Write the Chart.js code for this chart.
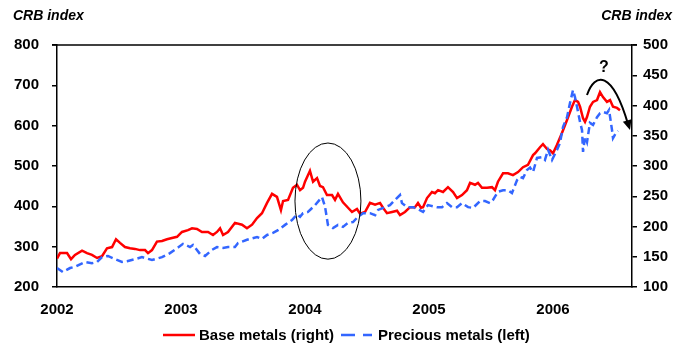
<!DOCTYPE html>
<html>
<head>
<meta charset="utf-8">
<script src="https://cdn.jsdelivr.net/npm/chart.js@4.4.0/dist/chart.umd.min.js"></script>
<style>
  html, body { margin: 0; padding: 0; background: #fff; }
  #wrap { width: 673px; height: 345px; }
</style>
</head>
<body>
<div id="wrap"><canvas id="c" width="673" height="345"></canvas></div>
<script>
// ---- data ----
const axisTitle = "CRB index";
const xTickYears = [2002, 2003, 2004, 2005, 2006];
const leftTicks = [200, 300, 400, 500, 600, 700, 800];
const rightTicks = [100, 150, 200, 250, 300, 350, 400, 450, 500];

const baseLabel = "Base metals (right)";
const baseYears = [
  2002.000, 2002.024, 2002.081, 2002.113, 2002.145, 2002.202, 2002.242, 2002.282, 2002.323, 2002.363,
  2002.403, 2002.444, 2002.476, 2002.508, 2002.548, 2002.589, 2002.629, 2002.669, 2002.710, 2002.734,
  2002.766, 2002.806, 2002.847, 2002.887, 2002.927, 2002.968, 2003.008, 2003.056, 2003.089, 2003.129,
  2003.169, 2003.218, 2003.258, 2003.290, 2003.315, 2003.339, 2003.379, 2003.435, 2003.492, 2003.532,
  2003.573, 2003.613, 2003.653, 2003.694, 2003.734, 2003.774, 2003.806, 2003.823, 2003.863, 2003.903,
  2003.935, 2003.960, 2003.984, 2004.000, 2004.040, 2004.065, 2004.097, 2004.121, 2004.145, 2004.177,
  2004.218, 2004.242, 2004.266, 2004.306, 2004.347, 2004.379, 2004.419, 2004.444, 2004.484, 2004.524,
  2004.565, 2004.605, 2004.629, 2004.661, 2004.702, 2004.742, 2004.766, 2004.806, 2004.847, 2004.887,
  2004.911, 2004.935, 2004.952, 2004.984, 2005.024, 2005.048, 2005.073, 2005.113, 2005.153, 2005.194,
  2005.226, 2005.266, 2005.306, 2005.331, 2005.371, 2005.395, 2005.427, 2005.468, 2005.508, 2005.532,
  2005.556, 2005.597, 2005.637, 2005.677, 2005.718, 2005.758, 2005.798, 2005.839, 2005.855, 2005.895,
  2005.919, 2005.952, 2005.976, 2006.000, 2006.032, 2006.073, 2006.113, 2006.153, 2006.177, 2006.202,
  2006.218, 2006.242, 2006.258, 2006.274, 2006.298, 2006.323, 2006.355, 2006.379, 2006.403, 2006.435,
  2006.460, 2006.484, 2006.516, 2006.540
];
const baseValues = [
  147, 156, 156, 146, 153, 160, 156, 153, 148, 151,
  164, 166, 179, 173, 166, 164, 163, 161, 161, 156,
  161, 175, 176, 179, 181, 183, 191, 194, 197, 196,
  191, 191, 186, 191, 197, 186, 191, 206, 203, 197,
  203, 214, 222, 239, 254, 249, 227, 242, 244, 264,
  269, 260, 264, 274, 292, 274, 280, 267, 265, 252,
  252, 244, 254, 240, 231, 224, 229, 221, 224, 239,
  236, 239, 231, 222, 224, 226, 219, 224, 232, 232,
  239, 231, 232, 247, 257, 255, 260, 257, 265, 257,
  247, 252, 260, 272, 269, 272, 264, 264, 265, 260,
  274, 288, 288, 285, 290, 298, 302, 318, 321, 331,
  336, 328, 326, 321, 335, 355, 376, 398, 409, 406,
  398, 379, 373, 381, 398, 406, 409, 422, 414, 406,
  409, 398, 396, 392
];

const preciousLabel = "Precious metals (left)";
const preciousYears = [
  2002.000, 2002.048, 2002.105, 2002.145, 2002.226, 2002.282, 2002.323, 2002.363, 2002.411, 2002.468,
  2002.524, 2002.565, 2002.629, 2002.685, 2002.766, 2002.847, 2002.911, 2002.976, 2003.016, 2003.073,
  2003.097, 2003.153, 2003.194, 2003.250, 2003.290, 2003.339, 2003.379, 2003.435, 2003.460, 2003.532,
  2003.613, 2003.653, 2003.694, 2003.742, 2003.782, 2003.839, 2003.895, 2003.935, 2003.960, 2003.984,
  2004.024, 2004.081, 2004.137, 2004.161, 2004.185, 2004.226, 2004.266, 2004.306, 2004.347, 2004.387,
  2004.427, 2004.468, 2004.524, 2004.565, 2004.589, 2004.645, 2004.685, 2004.726, 2004.766, 2004.782,
  2004.823, 2004.871, 2004.911, 2004.952, 2004.992, 2005.065, 2005.105, 2005.145, 2005.185, 2005.226,
  2005.266, 2005.315, 2005.355, 2005.411, 2005.452, 2005.492, 2005.516, 2005.556, 2005.597, 2005.637,
  2005.669, 2005.710, 2005.734, 2005.758, 2005.790, 2005.815, 2005.839, 2005.871, 2005.911, 2005.935,
  2005.960, 2005.992, 2006.032, 2006.056, 2006.081, 2006.113, 2006.137, 2006.161, 2006.177, 2006.194,
  2006.218, 2006.234, 2006.242, 2006.258, 2006.274, 2006.298, 2006.323, 2006.355, 2006.379, 2006.403,
  2006.435, 2006.452, 2006.476, 2006.484, 2006.508, 2006.524
];
const preciousValues = [
  247, 237, 247, 250, 262, 259, 262, 274, 277, 269,
  262, 264, 269, 274, 267, 274, 284, 298, 307, 299,
  304, 282, 277, 292, 299, 297, 299, 299, 309, 317,
  324, 319, 329, 334, 341, 354, 366, 380, 374, 383,
  386, 403, 423, 400, 354, 346, 354, 349, 359, 361,
  374, 383, 383, 378, 391, 398, 403, 416, 428, 408,
  398, 398, 393, 386, 403, 398, 398, 408, 398, 398,
  408, 398, 396, 413, 413, 408, 416, 436, 440, 440,
  433, 465, 473, 470, 490, 496, 485, 520, 522, 515,
  540, 515, 540, 557, 597, 621, 656, 688, 671, 646,
  609, 589, 535, 572, 559, 607, 602, 621, 631, 634,
  631, 639, 589, 569, 582, 587
];

// annotation geometry in data units (x: year, y: left-axis value)
const ellipseCenter = [2004.185, 413];
const ellipseRadii = [0.266, 144];
const arrowCurve = [[2006.274, 676], [2006.339, 733], [2006.476, 738], [2006.621, 589]];
const questionMark = { text: "?", at: [2006.411, 745] };

const FONT = "'Liberation Sans', Arial, Helvetica, sans-serif";

const basePts = baseYears.map((x, i) => ({ x, y: baseValues[i] }));
const precPts = preciousYears.map((x, i) => ({ x, y: preciousValues[i] }));

const RED = '#FF0000';
const BLUE = '#3366FF';

const deco = {
  id: 'deco',
  afterDatasetsDraw(chart) {
    const { ctx, chartArea: a, scales } = chart;
    const x = scales.x, yL = scales.yL;
    ctx.save();
    // top frame line
    ctx.strokeStyle = '#000';
    ctx.lineWidth = 1.5;
    ctx.beginPath();
    ctx.moveTo(a.left - 5, a.top);
    ctx.lineTo(a.right + 5, a.top);
    ctx.stroke();
    // ellipse
    const cx = x.getPixelForValue(ellipseCenter[0]);
    const cy = yL.getPixelForValue(ellipseCenter[1]);
    const rx = x.getPixelForValue(ellipseCenter[0] + ellipseRadii[0]) - cx;
    const ry = cy - yL.getPixelForValue(ellipseCenter[1] + ellipseRadii[1]);
    ctx.lineWidth = 1;
    ctx.beginPath();
    ctx.ellipse(cx, cy, rx, ry, 0, 0, Math.PI * 2);
    ctx.stroke();
    // arrow
    const p = arrowCurve.map(q => [x.getPixelForValue(q[0]), yL.getPixelForValue(q[1])]);
    ctx.lineWidth = 2;
    ctx.beginPath();
    ctx.moveTo(p[0][0], p[0][1]);
    ctx.bezierCurveTo(p[1][0], p[1][1], p[2][0], p[2][1], p[3][0] - 2, p[3][1] - 6);
    ctx.stroke();
    const ang = Math.atan2(p[3][1] - p[2][1], p[3][0] - p[2][0]);
    const L = 10, W = 4.5;
    const tx = p[3][0], ty = p[3][1];
    ctx.fillStyle = '#000';
    ctx.beginPath();
    ctx.moveTo(tx, ty);
    ctx.lineTo(tx - L * Math.cos(ang) + W * Math.sin(ang), ty - L * Math.sin(ang) - W * Math.cos(ang));
    ctx.lineTo(tx - L * Math.cos(ang) - W * Math.sin(ang), ty - L * Math.sin(ang) + W * Math.cos(ang));
    ctx.closePath();
    ctx.fill();
    // question mark
    ctx.font = "bold 16px " + FONT;
    ctx.textAlign = 'center';
    ctx.textBaseline = 'middle';
    ctx.fillText(questionMark.text, x.getPixelForValue(questionMark.at[0]), yL.getPixelForValue(questionMark.at[1]));
    ctx.restore();
  },
  afterDraw(chart) {
    const { ctx } = chart;
    ctx.save();
    ctx.fillStyle = '#000';
    ctx.font = "italic bold 14px " + FONT;
    ctx.textBaseline = 'middle';
    ctx.textAlign = 'left';
    ctx.fillText(axisTitle, 13, 16);
    ctx.textAlign = 'right';
    ctx.fillText(axisTitle, 672, 16);
    // legend
    const ly = 335;
    ctx.font = "bold 15px " + FONT;
    ctx.textAlign = 'left';
    ctx.strokeStyle = RED;
    ctx.lineWidth = 2.5;
    ctx.beginPath();
    ctx.moveTo(163, ly); ctx.lineTo(195, ly);
    ctx.stroke();
    ctx.fillText(baseLabel, 199, ly + 1);
    ctx.strokeStyle = BLUE;
    ctx.setLineDash([14, 8]);
    ctx.beginPath();
    ctx.moveTo(341, ly); ctx.lineTo(372, ly);
    ctx.stroke();
    ctx.setLineDash([]);
    ctx.fillText(preciousLabel, 378, ly + 1);
    ctx.restore();
  }
};

new Chart(document.getElementById('c'), {
  type: 'line',
  data: {
    datasets: [
      {
        label: preciousLabel, data: precPts, yAxisID: 'yL',
        borderColor: BLUE, borderWidth: 2.5, borderDash: [7, 4],
        pointRadius: 0, tension: 0, order: 0
      },
      {
        label: baseLabel, data: basePts, yAxisID: 'yR',
        borderColor: RED, borderWidth: 2.5,
        pointRadius: 0, tension: 0, order: 1
      }
    ]
  },
  options: {
    responsive: false,
    animation: false,
    devicePixelRatio: 1,
    layout: { padding: { top: 45, left: 0, right: 0, bottom: 0 } },
    plugins: { legend: { display: false }, tooltip: { enabled: false } },
    scales: {
      x: {
        type: 'linear', min: 2002, max: 2006.637,
        afterFit(s) { s.height = 58; },
        afterBuildTicks(s) { s.ticks = xTickYears.map(v => ({ value: v })); },
        grid: { display: false, drawTicks: false },
        border: { display: true, color: '#000', width: 1.5 },
        ticks: {
          includeBounds: false, padding: 14, color: '#000',
          font: { family: FONT, size: 15, weight: 'bold' },
          callback: v => String(v)
        }
      },
      yL: {
        type: 'linear', position: 'left', min: 200, max: 800,
        afterFit(s) { s.width = 57; },
        afterBuildTicks(s) { s.ticks = leftTicks.map(v => ({ value: v })); },
        grid: { drawOnChartArea: false, drawTicks: true, tickLength: 5, color: '#000', lineWidth: 1.5 },
        border: { display: true, color: '#000', width: 1.5 },
        ticks: { padding: 13, color: '#000', font: { family: FONT, size: 15, weight: 'bold' } }
      },
      yR: {
        type: 'linear', position: 'right', min: 100, max: 500,
        afterFit(s) { s.width = 41; },
        afterBuildTicks(s) { s.ticks = rightTicks.map(v => ({ value: v })); },
        grid: { drawOnChartArea: false, drawTicks: true, tickLength: 5, color: '#000', lineWidth: 1.5 },
        border: { display: true, color: '#000', width: 1.5 },
        ticks: { padding: 6, color: '#000', font: { family: FONT, size: 15, weight: 'bold' } }
      }
    }
  },
  plugins: [deco]
});
</script>
</body>
</html>
